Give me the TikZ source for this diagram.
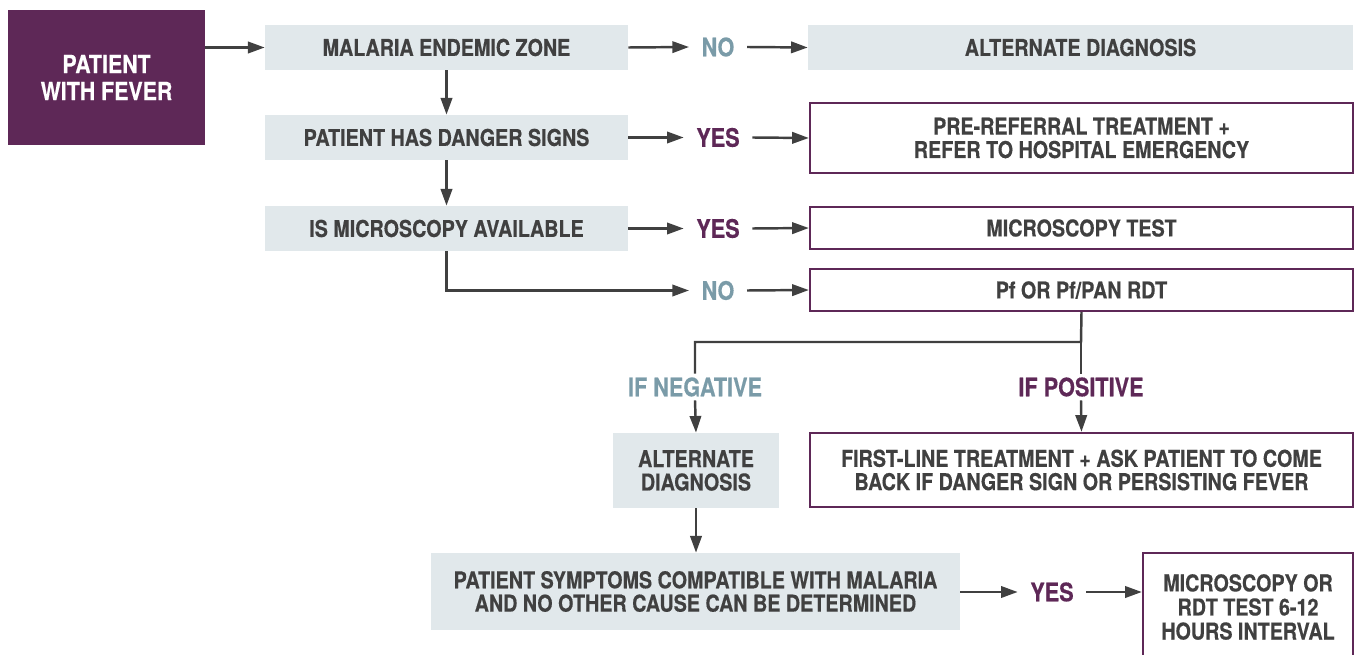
\documentclass[tikz,border=0pt]{standalone}
\usepackage{fontspec}
\setmainfont{TeX Gyre Heros}[FakeStretch=0.85, BoldFeatures={FakeBold=0.4}]
\usetikzlibrary{arrows.meta,positioning}
\definecolor{fevpurple}{HTML}{5E2857}
\definecolor{boxgray}{HTML}{E1E8EB}
\definecolor{nogray}{HTML}{7A9BA8}
\definecolor{linegray}{HTML}{404040}
\begin{document}
\begin{tikzpicture}[x=0.02cm,y=-0.02cm,
	font=\bfseries\fontsize{13.2}{13.3}\selectfont, text=linegray,
	grey/.style={fill=boxgray, inner sep=0pt, align=center},
	outl/.style={draw=fevpurple, line width=1.4pt, fill=white, inner sep=0pt, align=center},
	ans/.style={inner xsep=7pt, inner ysep=2pt, font=\bfseries\fontsize{14.5}{15}\selectfont},
	arr/.style={draw=linegray, line width=1.4pt, -{Triangle[length=9.5pt,width=6.5pt]}},
	lin/.style={draw=linegray, line width=1.4pt}]
	\useasboundingbox (0,0) rectangle (1359,655);
	
	\node[fill=fevpurple, text=white, minimum width=3.94cm, minimum height=2.7cm, align=center, font=\bfseries\fontsize{14.3}{15.4}\selectfont] (fever) at (106.5,77.5) {PATIENT\\WITH FEVER};
	
	\node[grey, minimum width=7.26cm, minimum height=0.9cm] (endemic) at (446.5,47.5) {MALARIA ENDEMIC ZONE};
	\node[grey, minimum width=7.26cm, minimum height=0.9cm] (danger) at (446.5,137.5) {PATIENT HAS DANGER SIGNS};
	\node[grey, minimum width=7.26cm, minimum height=0.9cm] (micro) at (446.5,228.5) {IS MICROSCOPY AVAILABLE};
	
	\node[ans, text=nogray] (no1) at (718,47) {NO};
	\node[ans, text=fevpurple] (yes1) at (718,137.5) {YES};
	\node[ans, text=fevpurple] (yes2) at (718,228.5) {YES};
	\node[ans, text=nogray] (no2) at (718,290.5) {NO};
	
	\node[grey, minimum width=10.9cm, minimum height=0.9cm] (altdiag) at (1080.5,47.5) {ALTERNATE DIAGNOSIS};
	\node[outl, minimum width=10.86cm, minimum height=1.4cm] (referral) at (1081.5,138) {PRE-REFERRAL TREATMENT +\\REFER TO HOSPITAL EMERGENCY};
	\node[outl, minimum width=10.86cm, minimum height=0.84cm] (mtest) at (1081.5,228) {MICROSCOPY TEST};
	\node[outl, minimum width=10.86cm, minimum height=0.84cm] (rdt) at (1081.5,290) {Pf OR Pf/PAN RDT};
	
	\coordinate (split) at (1081,342);
	\node[ans, text=nogray] (ifneg) at (695,387) {IF NEGATIVE};
	\node[ans, text=fevpurple] (ifpos) at (1081,387) {IF POSITIVE};
	
	\node[grey, minimum width=3.32cm, minimum height=1.5cm] (altdiag2) at (696,470.5) {ALTERNATE\\DIAGNOSIS};
	\node[outl, minimum width=10.86cm, minimum height=1.48cm] (firstline) at (1081.5,470) {FIRST-LINE TREATMENT + ASK PATIENT TO COME\\BACK IF DANGER SIGN OR PERSISTING FEVER};
	
	\node[grey, minimum width=10.58cm, minimum height=1.54cm] (symptoms) at (695.5,591.5) {PATIENT SYMPTOMS COMPATIBLE WITH MALARIA\\AND NO OTHER CAUSE CAN BE DETERMINED};
	\node[ans, text=fevpurple] (yes3) at (1052,592) {YES};
	\node[outl, minimum width=4.2cm, minimum height=2.16cm, font=\bfseries\fontsize{13.2}{13.7}\selectfont] (retest) at (1248,607) {MICROSCOPY OR\\RDT TEST 6-12\\HOURS INTERVAL};
	
	% connectors
	\draw[arr] (fever.east |- endemic.west) -- (endemic.west);
	\draw[arr] (endemic.east) -- (no1.west);
	\draw[arr] (no1.east) -- (altdiag.west);
	\draw[arr] (endemic.south) -- (danger.north);
	\draw[arr] (danger.east) -- (yes1.west);
	\draw[arr] (yes1.east) -- (referral.west);
	\draw[arr] (danger.south) -- (micro.north);
	\draw[arr] (micro.east) -- (yes2.west);
	\draw[arr] (yes2.east) -- (mtest.west);
	\draw[arr] (micro.south) |- (no2.west);
	\draw[arr] (no2.east) -- (rdt.west);
	\draw[lin] (rdt.south) -- (split) -| (ifneg.north);
	\draw[lin] (split) -- (ifpos.north);
	\draw[arr] (ifneg.south) -- (altdiag2.north);
	\draw[arr] (ifpos.south) -- (firstline.north);
	\draw[arr] (altdiag2.south) -- (altdiag2.south |- symptoms.north);
	\draw[arr] (symptoms.east |- yes3.west) -- (yes3.west);
	\draw[arr] (yes3.east) -- (yes3.east -| retest.west);
\end{tikzpicture}
\end{document}
